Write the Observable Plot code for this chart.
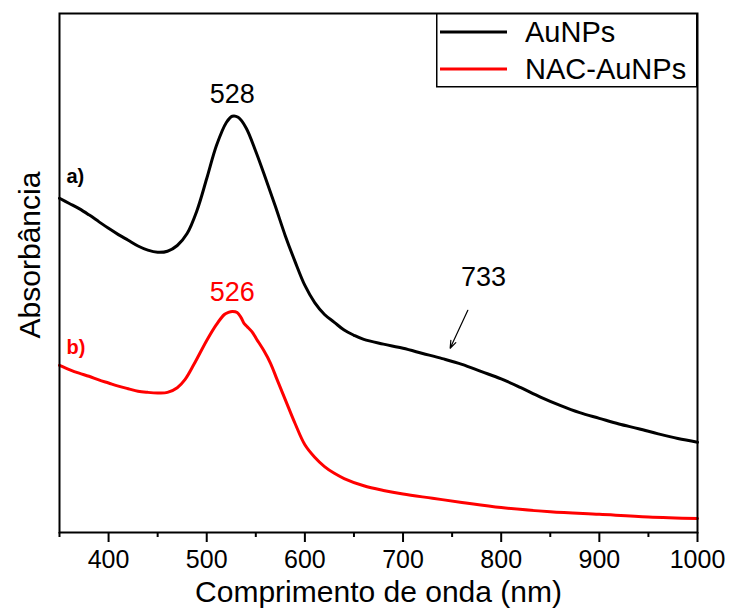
<!DOCTYPE html>
<html>
<head>
<meta charset="utf-8">
<script src="https://cdn.jsdelivr.net/npm/d3@7"></script>
<script src="https://cdn.jsdelivr.net/npm/@observablehq/plot@0.6"></script>
<style>
  body { margin: 0; background: #fff; font-family: "Liberation Sans", Arial, sans-serif; }
  #wrap { position: relative; width: 729px; height: 610px; }
  #legend { position: absolute; left: 436px; top: 13px; }
</style>
</head>
<body>
<div id="wrap"></div>
<script>
// ---- data (absorbance in arbitrary units) ----
const wavelengthA = [350,360,370,380,390,400,410,420,430,440,450,460,470,480,490,500,510,520,526,532,540,550,560,570,580,590,600,610,620,630,640,650,660,680,700,720,740,760,780,800,820,840,860,880,900,920,940,960,980,1000];
const absorbanceA = [0.644,0.634,0.624,0.612,0.599,0.586,0.574,0.563,0.552,0.544,0.540,0.542,0.553,0.576,0.620,0.682,0.746,0.790,0.802,0.800,0.780,0.734,0.682,0.628,0.572,0.522,0.476,0.443,0.420,0.405,0.390,0.380,0.372,0.363,0.355,0.345,0.335,0.324,0.310,0.296,0.279,0.261,0.245,0.231,0.220,0.209,0.200,0.190,0.181,0.174];

const wavelengthB = [350,360,370,380,390,400,410,420,430,440,450,460,470,478,487,500,510,518,522,526,531,535,538,541,546,551,558,565,572,580,590,600,610,620,630,640,660,680,700,730,760,800,850,900,950,1000];
const absorbanceB = [0.322,0.314,0.307,0.301,0.294,0.288,0.282,0.277,0.272,0.270,0.269,0.270,0.279,0.295,0.324,0.370,0.401,0.420,0.424,0.426,0.424,0.414,0.403,0.397,0.387,0.372,0.351,0.326,0.293,0.256,0.210,0.169,0.145,0.127,0.114,0.104,0.090,0.081,0.074,0.066,0.058,0.048,0.040,0.035,0.030,0.027];

const seriesNames = ["AuNPs", "NAC-AuNPs"];
const seriesColors = ["#000000", "#ff0000"];
const curveLabels = ["a)", "b)"];
const peakLabels = ["528", "526"];
const shoulderLabel = "733";
const xMajorTicks = [400, 500, 600, 700, 800, 900, 1000];
const xMinorTicks = [350, 450, 550, 650, 750, 850, 950];
const xTitle = "Comprimento de onda (nm)";
const yTitle = "Absorbância";

// ---- tables ----
const dataA = wavelengthA.map((w, i) => ({w, a: absorbanceA[i]}));
const dataB = wavelengthB.map((w, i) => ({w, a: absorbanceB[i]}));
const iA = d3.maxIndex(absorbanceA), iB = d3.maxIndex(absorbanceB);
const peaks = [
  {w: wavelengthA[iA], a: absorbanceA[iA], t: peakLabels[0], c: seriesColors[0], dy: -22},
  {w: wavelengthB[iB], a: absorbanceB[iB], t: peakLabels[1], c: seriesColors[1], dy: -19}
];
const starts = [
  {w: wavelengthA[0], a: absorbanceA[0], t: curveLabels[0], c: seriesColors[0], dy: -22},
  {w: wavelengthB[0], a: absorbanceB[0], t: curveLabels[1], c: seriesColors[1], dy: -18}
];
// annotation arrow for the 733 band (data units)
const shoulderArrow = [{x1: 766, y1: 0.428, x2: 748, y2: 0.355}];
const shoulderText = [{x: 782, y: 0.491, t: shoulderLabel}];

const font = "Liberation Sans, Arial, sans-serif";

const chart = Plot.plot({
  width: 729,
  height: 610,
  marginLeft: 59,
  marginRight: 32,
  marginTop: 13,
  marginBottom: 78,
  x: {domain: [350, 1000], label: null},
  y: {domain: [0, 1], axis: null, label: null},
  style: {fontFamily: font, background: "white", color: "black", overflow: "visible"},
  marks: [
    Plot.line(dataA, {x: "w", y: "a", stroke: seriesColors[0], strokeWidth: 3, curve: "catmull-rom"}),
    Plot.line(dataB, {x: "w", y: "a", stroke: seriesColors[1], strokeWidth: 3, curve: "catmull-rom"}),
    Plot.frame({stroke: "black", strokeWidth: 2}),
    Plot.axisX({ticks: xMajorTicks, tickSize: 10, tickPadding: 8, fontSize: 25, strokeWidth: 2, label: null, tickFormat: d => String(d)}),
    Plot.axisX({ticks: xMinorTicks, tickSize: 5, strokeWidth: 2, label: null, tickFormat: () => ""}),
    ...peaks.map(p => Plot.text([p], {x: "w", y: "a", text: "t", fill: p.c, dy: p.dy, fontSize: 27, lineAnchor: "middle"})),
    ...starts.map(p => Plot.text([p], {x: "w", y: "a", text: "t", fill: p.c, dx: 7, dy: p.dy, fontSize: 20, fontWeight: "bold", textAnchor: "start", lineAnchor: "middle"})),
    Plot.text(shoulderText, {x: "x", y: "y", text: "t", fill: "black", fontSize: 27, lineAnchor: "middle"}),
    Plot.arrow(shoulderArrow, {x1: "x1", y1: "y1", x2: "x2", y2: "y2", stroke: "black", strokeWidth: 1.2, headLength: 10, headAngle: 40}),
    Plot.text([xTitle], {text: d => d, frameAnchor: "bottom", dy: 60, fontSize: 30, lineAnchor: "middle", textAnchor: "middle"}),
    Plot.text([yTitle], {text: d => d, frameAnchor: "left", dx: -29, dy: -18, rotate: -90, fontSize: 30, lineAnchor: "middle", textAnchor: "middle"})
  ]
});

const wrap = document.getElementById("wrap");
wrap.appendChild(chart);

// legend (overlay with real text)
const lg = d3.select(wrap).append("svg").attr("id", "legend").attr("width", 262).attr("height", 75);
lg.append("rect").attr("x", 0.75).attr("y", 0.75).attr("width", 260).attr("height", 73)
  .attr("fill", "white").attr("stroke", "black").attr("stroke-width", 1.5);
seriesNames.forEach((name, i) => {
  const cy = 19 + i * 37;
  lg.append("line").attr("x1", 4).attr("x2", 71).attr("y1", cy).attr("y2", cy)
    .attr("stroke", seriesColors[i]).attr("stroke-width", 3);
  lg.append("text").attr("x", 89).attr("y", cy).attr("dy", "0.35em")
    .attr("font-family", font).attr("font-size", 29).attr("fill", "black").text(name);
});
</script>
</body>
</html>
